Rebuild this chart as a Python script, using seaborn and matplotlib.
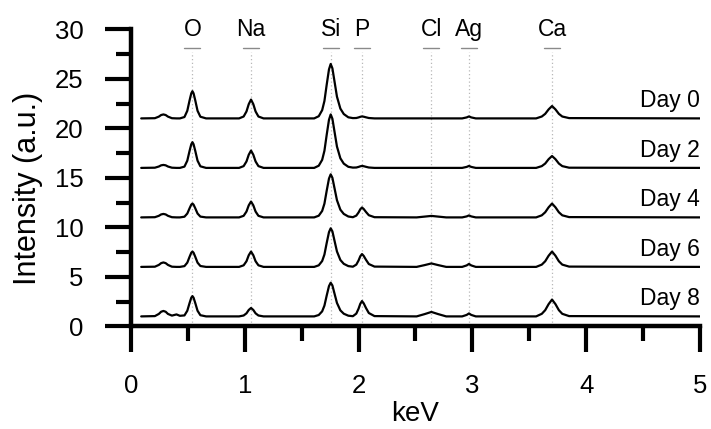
import numpy as np
import pandas as pd
import matplotlib
matplotlib.use("Agg")
import matplotlib.pyplot as plt
import seaborn as sns
from matplotlib.ticker import MultipleLocator

# ---- data ----
kev = [0.09, 0.21, 0.245, 0.265, 0.285, 0.305, 0.325, 0.36, 0.40, 0.43,
       0.47, 0.495, 0.515, 0.53, 0.54, 0.55, 0.565, 0.585, 0.61, 0.66,
       0.95, 0.99, 1.015, 1.035, 1.055, 1.075, 1.095, 1.12, 1.165,
       1.61, 1.65, 1.68, 1.70, 1.72, 1.74, 1.755, 1.77, 1.79, 1.81, 1.84, 1.87, 1.91,
       1.95, 1.98, 2.00, 2.015, 2.03, 2.045, 2.065, 2.09, 2.14,
       2.51, 2.58, 2.64, 2.70, 2.77,
       2.91, 2.95, 2.97, 2.99, 3.03,
       3.56, 3.61, 3.64, 3.67, 3.70, 3.73, 3.76, 3.79, 3.85,
       5.00]

day0 = [0, 0.02, 0.18, 0.34, 0.4, 0.34, 0.18, 0.02, 0, 0,
        0.14, 0.77, 1.82, 2.53, 2.75, 2.53, 1.82, 0.77, 0.17, 0,
        0, 0.19, 0.7, 1.44, 1.9, 1.44, 0.7, 0.19, 0,
        0, 0.22, 0.83, 1.76, 3.41, 4.95, 5.5, 5.06, 3.63, 2.2, 0.99, 0.44, 0.11,
        0.03, 0.04, 0.1, 0.16, 0.2, 0.17, 0.11, 0.04, 0,
        0, 0, 0, 0, 0,
        0, 0.1, 0.2, 0.1, 0,
        0, 0.19, 0.46, 0.91, 1.25, 0.91, 0.46, 0.19, 0.03,
        0]

day2 = [0, 0.02, 0.14, 0.26, 0.3, 0.26, 0.14, 0.02, 0, 0,
        0.13, 0.73, 1.72, 2.39, 2.6, 2.39, 1.72, 0.73, 0.16, 0,
        0, 0.18, 0.65, 1.33, 1.75, 1.33, 0.65, 0.18, 0,
        0, 0.22, 0.81, 1.73, 3.35, 4.86, 5.4, 4.97, 3.56, 2.16, 0.97, 0.43, 0.11,
        0.03, 0.04, 0.1, 0.16, 0.2, 0.17, 0.11, 0.04, 0,
        0, 0, 0, 0, 0,
        0, 0.1, 0.2, 0.1, 0,
        0, 0.18, 0.44, 0.88, 1.2, 0.88, 0.44, 0.18, 0.02,
        0]

day4 = [0, 0.02, 0.16, 0.3, 0.35, 0.3, 0.16, 0.02, 0, 0,
        0.07, 0.39, 0.92, 1.29, 1.4, 1.29, 0.92, 0.39, 0.08, 0,
        0, 0.16, 0.59, 1.22, 1.6, 1.22, 0.59, 0.16, 0,
        0, 0.17, 0.65, 1.39, 2.7, 3.92, 4.35, 4.0, 2.87, 1.74, 0.78, 0.35, 0.09,
        0.02, 0.18, 0.5, 0.82, 1.0, 0.85, 0.55, 0.22, 0.02,
        0, 0.08, 0.15, 0.08, 0,
        0, 0.1, 0.2, 0.1, 0,
        0, 0.21, 0.52, 1.02, 1.4, 1.02, 0.52, 0.21, 0.03,
        0]

day6 = [0, 0.02, 0.2, 0.38, 0.45, 0.38, 0.2, 0.02, 0, 0,
        0.08, 0.43, 1.02, 1.43, 1.55, 1.43, 1.02, 0.43, 0.09, 0,
        0, 0.16, 0.57, 1.18, 1.55, 1.18, 0.57, 0.16, 0,
        0, 0.16, 0.59, 1.25, 2.42, 3.51, 3.9, 3.59, 2.57, 1.56, 0.7, 0.31, 0.08,
        0.02, 0.23, 0.65, 1.07, 1.3, 1.11, 0.72, 0.29, 0.03,
        0, 0.18, 0.35, 0.18, 0,
        0, 0.15, 0.3, 0.15, 0,
        0, 0.23, 0.57, 1.13, 1.55, 1.13, 0.57, 0.23, 0.03,
        0]

day8 = [0, 0.03, 0.25, 0.47, 0.55, 0.47, 0.25, 0.08, 0.2, 0.06,
        0.1, 0.57, 1.35, 1.89, 2.05, 1.89, 1.35, 0.57, 0.12, 0,
        0, 0.09, 0.31, 0.65, 0.85, 0.65, 0.31, 0.09, 0,
        0, 0.14, 0.51, 1.09, 2.11, 3.06, 3.4, 3.13, 2.24, 1.36, 0.61, 0.27, 0.07,
        0.02, 0.28, 0.78, 1.27, 1.55, 1.32, 0.85, 0.34, 0.03,
        0, 0.23, 0.45, 0.23, 0,
        0, 0.15, 0.3, 0.15, 0,
        0, 0.26, 0.63, 1.24, 1.7, 1.24, 0.63, 0.26, 0.03,
        0]

days = ["Day 0", "Day 2", "Day 4", "Day 6", "Day 8"]
offsets = [21, 16, 11, 6, 1]
spectra = [day0, day2, day4, day6, day8]

elements = ["O", "Na", "Si", "P", "Cl", "Ag", "Ca"]
element_kev = [0.54, 1.055, 1.755, 2.03, 2.64, 2.97, 3.70]

# ---- style ----
sns.set_style("ticks")
plt.rcParams["font.family"] = ["Liberation Sans", "DejaVu Sans"]
plt.rcParams["text.color"] = "black"
plt.rcParams["axes.labelcolor"] = "black"
plt.rcParams["xtick.color"] = "black"
plt.rcParams["ytick.color"] = "black"

fig = plt.figure(figsize=(7.11, 4.29), dpi=100)
ax = fig.add_axes([0.1842, 0.2394, 0.8003, 0.6923])

rows = []
for d, off, vals in zip(days, offsets, spectra):
    for x, v in zip(kev, vals):
        rows.append({"keV": x, "Intensity": v + off, "Day": d})
df = pd.DataFrame(rows)

# element guide lines
ax.vlines(element_kev, 0, 27.7, colors="#b8b8b8", linestyles=(0, (1, 2)),
          linewidth=0.9, zorder=1)
for ek, el in zip(element_kev, elements):
    ax.plot([ek - 0.07, ek + 0.07], [28.1, 28.1], color="#8a8a8a", lw=1.0,
            clip_on=False, zorder=1)
    ax.text(ek, 30.0, el, ha="center", va="center", fontsize=16.5)

sns.lineplot(data=df, x="keV", y="Intensity", hue="Day",
             palette=["black"] * 5, estimator=None, sort=False,
             legend=False, linewidth=1.6, ax=ax, zorder=3)

for d, off in zip(days, offsets):
    ax.text(5.0, off + 1.15, d, ha="right", va="baseline", fontsize=16.5)

ax.set_xlim(0, 5)
ax.set_ylim(0, 30)
ax.xaxis.set_major_locator(MultipleLocator(1))
ax.xaxis.set_minor_locator(MultipleLocator(0.5))
ax.yaxis.set_major_locator(MultipleLocator(5))
ax.yaxis.set_minor_locator(MultipleLocator(2.5))

for s in ["top", "right"]:
    ax.spines[s].set_visible(False)
for s in ["left", "bottom"]:
    ax.spines[s].set_linewidth(3.2)
    ax.spines[s].set_color("black")

ax.tick_params(which="major", direction="out", length=19, width=3,
               pad=15, labelsize=18.5, color="black")
ax.tick_params(which="minor", direction="out", length=11, width=3,
               color="black")

ax.set_xlabel("keV", fontsize=20)
ax.set_ylabel("Intensity (a.u.)", fontsize=22)
ax.xaxis.label.set_va("center")
ax.xaxis.set_label_coords(0.5, -0.295)
ax.yaxis.label.set_va("center")
ax.yaxis.set_label_coords(-0.181, 0.466)

fig.savefig("out.png", dpi=100)
